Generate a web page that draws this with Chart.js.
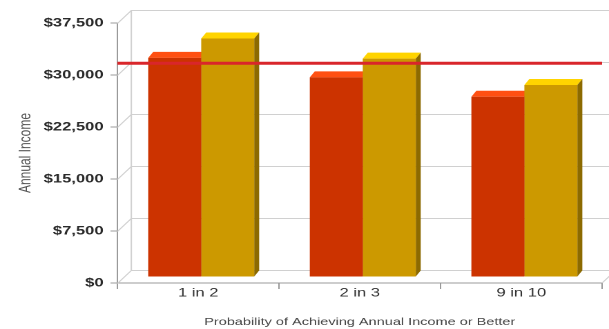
<!DOCTYPE html>
<html>
<head>
<meta charset="utf-8">
<title>Annual Income by Probability</title>
<script src="https://cdn.jsdelivr.net/npm/chart.js@4.4.1/dist/chart.umd.min.js"></script>
<style>
  html, body { margin: 0; padding: 0; background: #fff; overflow: hidden; }
  /* the chart is laid out narrow and widened horizontally */
  #wrap { width: 441px; height: 329px; transform: scaleX(1.38095); transform-origin: 0 0; }
</style>
</head>
<body>
<div id="wrap"><canvas id="c" width="441" height="329"></canvas></div>
<script>
// ---- data ----
const categories = ['1 in 2', '2 in 3', '9 in 10'];
const incomeRed  = [31600, 28800, 26000];
const incomeGold = [34400, 31500, 27700];
const targetIncome = 31700;
const axisMin = 0;
const axisMax = 37500;
const axisStep = 7500;

// ---- 3D look ----
const WALL = { dx: 10.1, dy: 13 };      // depth of the back wall
const BAR_SHIFT = { dx: 2.2, dy: -6 };  // bars stand a little behind the front plane
const BAR_DEPTH = { dx: 3.6, dy: 6 };   // thickness of each bar
const FACES = [
  { front: '#cc3300', top: '#ff5012', side: '#8f2400' },
  { front: '#cc9900', top: '#ffd400', side: '#8c6a00' }
];

const frame3d = {
  id: 'frame3d',
  beforeDatasetsDraw(chart) {
    const { ctx, chartArea: a, scales: { y } } = chart;
    ctx.save();
    ctx.strokeStyle = '#d0d0d0';
    ctx.lineWidth = 1;
    ctx.beginPath();
    y.ticks.forEach(t => {
      const py = Math.round(y.getPixelForValue(t.value)) + 0.5;
      ctx.moveTo(a.left, py);
      ctx.lineTo(a.left + WALL.dx, py - WALL.dy);
      ctx.lineTo(a.right + WALL.dx + 20, py - WALL.dy);
    });
    const yTop = y.getPixelForValue(axisMax) - WALL.dy;
    const yBot = y.getPixelForValue(axisMin) - WALL.dy;
    ctx.moveTo(a.left + WALL.dx, yTop);
    ctx.lineTo(a.left + WALL.dx, yBot);
    ctx.moveTo(a.right, a.bottom);
    ctx.lineTo(a.right + WALL.dx, a.bottom - WALL.dy);
    ctx.stroke();
    ctx.restore();

    // bars live on a plane slightly behind the axes; faces go under the fronts
    ctx.save();
    ctx.translate(BAR_SHIFT.dx, BAR_SHIFT.dy);
    chart.data.datasets.forEach((ds, i) => {
      const meta = chart.getDatasetMeta(i);
      const f = FACES[i];
      meta.data.forEach(bar => {
        const { x, y: top, base, width } = bar.getProps(['x', 'y', 'base', 'width'], true);
        const l = x - width / 2, r = x + width / 2;
        ctx.fillStyle = f.top;
        ctx.beginPath();
        ctx.moveTo(l, top);
        ctx.lineTo(l + BAR_DEPTH.dx, top - BAR_DEPTH.dy);
        ctx.lineTo(r + BAR_DEPTH.dx, top - BAR_DEPTH.dy);
        ctx.lineTo(r, top);
        ctx.closePath();
        ctx.fill();
        ctx.fillStyle = f.side;
        ctx.beginPath();
        ctx.moveTo(r, top);
        ctx.lineTo(r + BAR_DEPTH.dx, top - BAR_DEPTH.dy);
        ctx.lineTo(r + BAR_DEPTH.dx, base - BAR_DEPTH.dy);
        ctx.lineTo(r, base);
        ctx.closePath();
        ctx.fill();
      });
    });
  },
  afterDatasetsDraw(chart) {
    const { ctx, chartArea: a, scales: { y } } = chart;
    ctx.restore();
    // target income line across the front plane
    const py = y.getPixelForValue(targetIncome);
    ctx.save();
    ctx.strokeStyle = '#d9262b';
    ctx.lineWidth = 3;
    ctx.beginPath();
    ctx.moveTo(a.left, py);
    ctx.lineTo(a.right, py);
    ctx.stroke();
    ctx.restore();
  }
};

new Chart(document.getElementById('c'), {
  type: 'bar',
  data: {
    labels: categories,
    datasets: [
      { label: 'Income', data: incomeRed, backgroundColor: FACES[0].front, borderWidth: 0, clip: false },
      { label: 'Income with plan', data: incomeGold, backgroundColor: FACES[1].front, borderWidth: 0, clip: false }
    ]
  },
  options: {
    responsive: false,
    animation: false,
    devicePixelRatio: 2,
    layout: { padding: { top: 23, right: 5, bottom: 0, left: 0 } },
    datasets: { bar: { categoryPercentage: 0.656, barPercentage: 1.0 } },
    plugins: { legend: { display: false }, tooltip: { enabled: false } },
    scales: {
      x: {
        offset: true,
        grid: { offset: true, drawOnChartArea: false, drawTicks: true, tickLength: 6, color: '#9a9a9a' },
        border: { display: true, color: '#9a9a9a' },
        ticks: { color: '#333', padding: -3, font: { family: 'Liberation Sans, Arial, sans-serif', size: 12 } },
        title: {
          display: true,
          text: 'Probability of Achieving Annual Income or Better',
          color: '#444',
          padding: { top: 0, bottom: 0.5 },
          font: { family: 'Liberation Sans, Arial, sans-serif', size: 10.5 }
        },
        afterFit(scale) { scale.height = 46; }
      },
      y: {
        min: axisMin,
        max: axisMax,
        grid: { drawOnChartArea: false, drawTicks: true, tickLength: 5, color: '#9a9a9a' },
        border: { display: true, color: '#9a9a9a' },
        ticks: {
          stepSize: axisStep,
          padding: 5,
          color: '#2a2a2a',
          font: { family: 'Liberation Sans, Arial, sans-serif', size: 12, weight: 'bold' },
          callback: v => '$' + v.toLocaleString('en-US')
        },
        title: {
          display: true,
          text: 'Annual Income',
          color: '#555',
          padding: { top: 11.6, bottom: 0 },
          font: { family: 'Liberation Sans, Arial, sans-serif', size: 12 }
        },
        afterFit(scale) { scale.width = 85; }
      }
    }
  },
  plugins: [frame3d]
});
</script>
</body>
</html>
